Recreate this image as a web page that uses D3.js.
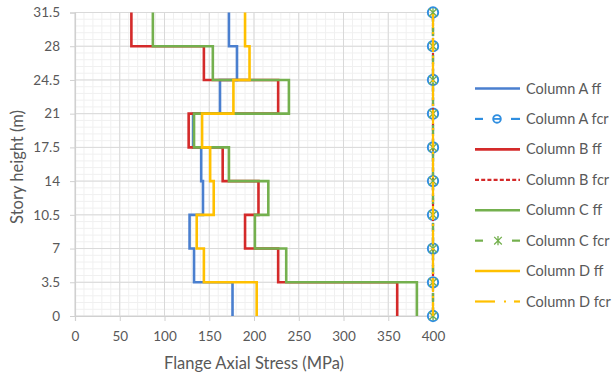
<!DOCTYPE html>
<html>
<head>
<meta charset="utf-8">
<script src="https://cdn.jsdelivr.net/npm/d3@7"></script>
<style>
  html, body { margin: 0; padding: 0; background: #fff; }
  svg { display: block; font-family: Lato, "Open Sans", sans-serif; }
</style>
</head>
<body>
<svg id="chart" width="612" height="378"></svg>
<script>
// Story levels (m) and tick labels
const levels = [0, 3.5, 7, 10.5, 14, 17.5, 21, 24.5, 28, 31.5];
const yTickLabels = ["0", "3.5", "7", "10.5", "14", "17.5", "21", "24.5", "28", "31.5"];
const xTicks = [0, 50, 100, 150, 200, 250, 300, 350, 400];

// Flange axial stress per story (MPa), story 1 (0–3.5 m) to story 9 (28–31.5 m)
const columnA_ff = [176, 133, 128, 143, 141, 132, 162, 181, 172];
const columnB_ff = [360, 227, 190, 205, 165, 127, 227, 144, 63];
const columnC_ff = [382, 236, 201, 216, 172, 133, 239, 154, 87];
const columnD_ff = [203, 144, 136, 155, 151, 142, 177, 195, 190];

// Critical stress at each level (MPa)
const columnA_fcr = [400, 400, 400, 400, 400, 400, 400, 400, 400, 400];
const columnB_fcr = [400, 400, 400, 400, 400, 400, 400, 400, 400, 400];
const columnC_fcr = [400, 400, 400, 400, 400, 400, 400, 400, 400, 400];
const columnD_fcr = [400, 400, 400, 400, 400, 400, 400, 400, 400, 400];

const seriesNames = ["Column A ff", "Column A fcr", "Column B ff", "Column B fcr",
                     "Column C ff", "Column C fcr", "Column D ff", "Column D fcr"];

const BLUE = "#4a7fcf", RED = "#d42a2a", GREEN = "#74b04e", YELLOW = "#ffc000", MARK_BLUE = "#2f8ee0";

const svg = d3.select("#chart");
const x = d3.scaleLinear().domain([0, 400]).range([75, 433]);
const y = d3.scaleLinear().domain([0, 31.5]).range([316, 12.5]);

// Gridlines: minor every 10 MPa / 0.7 m, major on ticks
const grid = svg.append("g");
const minorX = d3.range(0, 401, 10), minorY = d3.range(0, 46).map(i => i * 0.7);
grid.selectAll("line.mx").data(minorX).join("line")
  .attr("x1", d => x(d)).attr("x2", d => x(d)).attr("y1", y(0)).attr("y2", y(31.5))
  .attr("stroke", "#f0f0f0").attr("stroke-width", 1);
grid.selectAll("line.my").data(minorY).join("line")
  .attr("y1", d => y(d)).attr("y2", d => y(d)).attr("x1", x(0)).attr("x2", x(400))
  .attr("stroke", "#f0f0f0").attr("stroke-width", 1);
grid.selectAll("line.Mx").data(xTicks).join("line")
  .attr("x1", d => x(d)).attr("x2", d => x(d)).attr("y1", y(0)).attr("y2", y(31.5))
  .attr("stroke", "#d9d9d9").attr("stroke-width", 1);
grid.selectAll("line.My").data(levels).join("line")
  .attr("y1", d => y(d)).attr("y2", d => y(d)).attr("x1", x(0)).attr("x2", x(400))
  .attr("stroke", "#d9d9d9").attr("stroke-width", 1);

// Axes
const xAxis = svg.append("g").attr("transform", `translate(0,${y(0)})`)
  .call(d3.axisBottom(x).tickValues(xTicks).tickSize(5).tickPadding(10).tickFormat(d3.format("d")));
const yAxis = svg.append("g").attr("transform", `translate(${x(0)},0)`)
  .call(d3.axisLeft(y).tickValues(levels).tickSize(5).tickPadding(10)
    .tickFormat((d, i) => yTickLabels[i]));
[xAxis, yAxis].forEach(g => {
  g.select(".domain").attr("stroke", "#d0d0d0").attr("stroke-width", 1.2);
  g.selectAll(".tick line").attr("stroke", "#d0d0d0");
  g.selectAll(".tick text").attr("fill", "#595959").style("font-size", "13.5px")
    .style("font-family", "Lato, sans-serif");
});

// Step profile for a per-story series
function stepPoints(vals) {
  const pts = [];
  vals.forEach((v, i) => { pts.push([v, levels[i]]); pts.push([v, levels[i + 1]]); });
  return pts;
}
const line = d3.line().x(d => x(d[0])).y(d => y(d[1]));

function drawStep(vals, color) {
  svg.append("path").datum(stepPoints(vals)).attr("d", line)
    .attr("fill", "none").attr("stroke", color).attr("stroke-width", 2.6)
    .attr("stroke-linejoin", "miter");
}
function drawLevel(vals, color, dash) {
  svg.append("path").datum(vals.map((v, i) => [v, levels[i]])).attr("d", line)
    .attr("fill", "none").attr("stroke", color).attr("stroke-width", 2.2)
    .attr("stroke-dasharray", dash);
}
function circleMarker(g, cx, cy, r) {
  g.append("circle").attr("cx", cx).attr("cy", cy).attr("r", r)
    .attr("fill", "none").attr("stroke", MARK_BLUE).attr("stroke-width", 1.9);
}
function starMarker(g, cx, cy) {
  const r = 3.8;
  const p = `M${cx - r},${cy - r}L${cx + r},${cy + r}M${cx - r},${cy + r}L${cx + r},${cy - r}M${cx},${cy - r - 0.8}L${cx},${cy + r + 0.8}`;
  g.append("path").attr("d", p).attr("stroke", GREEN).attr("stroke-width", 1.3).attr("fill", "none");
}

drawStep(columnA_ff, BLUE);
drawLevel(columnA_fcr, MARK_BLUE, "9,5");
const markA = svg.append("g");
columnA_fcr.forEach((v, i) => circleMarker(markA, x(v), y(levels[i]), 5.2));
drawStep(columnB_ff, RED);
drawLevel(columnB_fcr, RED, "3,2");
drawStep(columnC_ff, GREEN);
drawLevel(columnC_fcr, GREEN, "9,5");
const markC = svg.append("g");
columnC_fcr.forEach((v, i) => starMarker(markC, x(v), y(levels[i])));
drawStep(columnD_ff, YELLOW);
drawLevel(columnD_fcr, YELLOW, "14,4,2,4");

// Axis titles
svg.append("text").attr("x", (x(0) + x(400)) / 2 + 0).attr("y", 369)
  .attr("text-anchor", "middle").attr("fill", "#595959")
  .style("font-size", "16.5px").text("Flange Axial Stress (MPa)");
svg.append("text").attr("transform", "translate(23,167) rotate(-90)")
  .attr("text-anchor", "middle").attr("fill", "#595959")
  .style("font-size", "16.5px").text("Story height (m)");

// Legend
const legend = svg.append("g");
const legendY = d3.scaleLinear().domain([0, 7]).range([88.5, 301.5]);
const lx0 = 475, lx1 = 520;
seriesNames.forEach((name, i) => {
  const ly = legendY(i);
  const g = legend.append("g");
  if (i === 0) g.append("line").attr("x1", lx0).attr("x2", lx1).attr("y1", ly).attr("y2", ly).attr("stroke", BLUE).attr("stroke-width", 2.6);
  if (i === 2) g.append("line").attr("x1", lx0).attr("x2", lx1).attr("y1", ly).attr("y2", ly).attr("stroke", RED).attr("stroke-width", 2.6);
  if (i === 4) g.append("line").attr("x1", lx0).attr("x2", lx1).attr("y1", ly).attr("y2", ly).attr("stroke", GREEN).attr("stroke-width", 2.6);
  if (i === 6) g.append("line").attr("x1", lx0).attr("x2", lx1).attr("y1", ly).attr("y2", ly).attr("stroke", YELLOW).attr("stroke-width", 2.6);
  if (i === 1) {
    g.append("line").attr("x1", lx0).attr("x2", lx0 + 8).attr("y1", ly).attr("y2", ly).attr("stroke", MARK_BLUE).attr("stroke-width", 2.2);
    g.append("line").attr("x1", lx1 - 9).attr("x2", lx1).attr("y1", ly).attr("y2", ly).attr("stroke", MARK_BLUE).attr("stroke-width", 2.2);
    g.append("line").attr("x1", 493).attr("x2", 501).attr("y1", ly).attr("y2", ly).attr("stroke", MARK_BLUE).attr("stroke-width", 1.8);
    circleMarker(g, 497, ly, 3.8);
  }
  if (i === 3) g.append("line").attr("x1", lx0).attr("x2", lx1).attr("y1", ly).attr("y2", ly).attr("stroke", RED).attr("stroke-width", 2.2).attr("stroke-dasharray", "4,2.2");
  if (i === 5) {
    g.append("line").attr("x1", lx0).attr("x2", lx0 + 8).attr("y1", ly).attr("y2", ly).attr("stroke", GREEN).attr("stroke-width", 2.2);
    g.append("line").attr("x1", lx1 - 8).attr("x2", lx1).attr("y1", ly).attr("y2", ly).attr("stroke", GREEN).attr("stroke-width", 2.2);
    starMarker(g, 498, ly);
  }
  if (i === 7) {
    g.append("line").attr("x1", lx0).attr("x2", 495).attr("y1", ly).attr("y2", ly).attr("stroke", YELLOW).attr("stroke-width", 2.2);
    g.append("line").attr("x1", 504).attr("x2", 506).attr("y1", ly).attr("y2", ly).attr("stroke", YELLOW).attr("stroke-width", 2.2);
    g.append("line").attr("x1", 514).attr("x2", lx1).attr("y1", ly).attr("y2", ly).attr("stroke", YELLOW).attr("stroke-width", 2.2);
  }
  g.append("text").attr("x", 526).attr("y", ly).attr("dy", "0.35em")
    .attr("fill", "#595959").style("font-size", "14.5px").text(name);
});
</script>
</body>
</html>
